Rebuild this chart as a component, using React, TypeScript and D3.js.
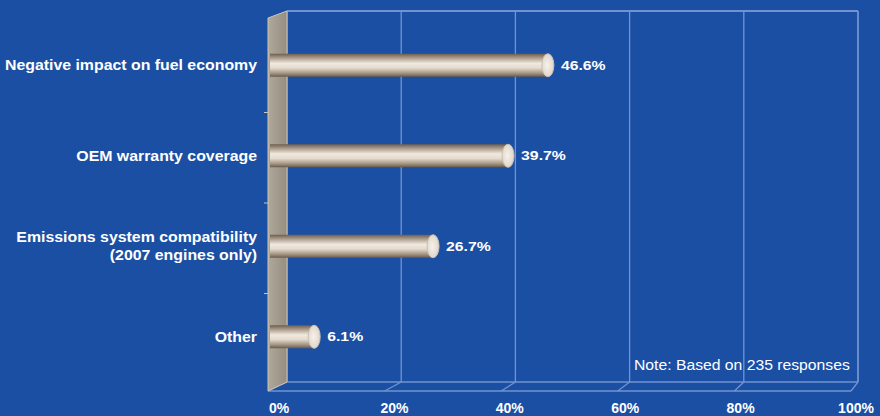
import React from "react";
import * as d3 from "d3";

const categories = [
  ["Negative impact on fuel economy"],
  ["OEM warranty coverage"],
  ["Emissions system compatibility", "(2007 engines only)"],
  ["Other"],
];
const values = [46.6, 39.7, 26.7, 6.1];
const valueLabels = ["46.6%", "39.7%", "26.7%", "6.1%"];
const ticks = [0, 20, 40, 60, 80, 100];
const tickLabels = ["0%", "20%", "40%", "60%", "80%", "100%"];
const note = "Note: Based on 235 responses";

const W = 880;
const H = 416;
const BG = "#1b4fa4";
const GRID = "#7393d0";

export default function App() {
  const mid = d3.scaleLinear().domain([0, 100]).range([279, 856]);
  const back = d3.scaleLinear().domain([0, 100]).range([287, 858]);
  const front = d3.scaleLinear().domain([0, 100]).range([268, 851]);
  const y = d3
    .scaleBand<number>()
    .domain(values.map((_, i) => i))
    .range([20, 382])
    .padding(0);
  const top = 11;
  const backBottom = 382;
  const frontBottom = 391;
  const bw = 23;

  return (
    <svg
      width={W}
      height={H}
      style={{ position: "absolute", left: 0, top: 0, background: BG }}
      fontFamily="'Liberation Sans', Arial, sans-serif"
    >
      <defs>
        <linearGradient id="cyl" x1="0" y1="0" x2="0" y2="1">
          <stop offset="0" stopColor="#6e5e4e" />
          <stop offset="0.18" stopColor="#ab9b8b" />
          <stop offset="0.42" stopColor="#f1e9df" />
          <stop offset="0.62" stopColor="#e4dace" />
          <stop offset="0.85" stopColor="#a39482" />
          <stop offset="1" stopColor="#6a5a4a" />
        </linearGradient>
        <linearGradient id="wall" x1="0" y1="0" x2="1" y2="0">
          <stop offset="0" stopColor="#b0a899" />
          <stop offset="1" stopColor="#958d80" />
        </linearGradient>
        <radialGradient id="cap" cx="0.45" cy="0.5" r="0.6">
          <stop offset="0" stopColor="#f6f1ea" />
          <stop offset="1" stopColor="#ddd3c7" />
        </radialGradient>
      </defs>
      <rect x={0} y={0} width={W} height={H} fill={BG} />

      {/* back wall gridlines */}
      {ticks.map((t) => (
        <line
          key={"g" + t}
          x1={back(t)}
          x2={back(t)}
          y1={top}
          y2={backBottom}
          stroke={GRID}
          strokeWidth={t === 100 ? 1.8 : 1.3}
        />
      ))}
      <line x1={back(0)} x2={back(100)} y1={top} y2={top} stroke={GRID} strokeWidth={1.8} />

      {/* floor */}
      <line x1={back(0)} x2={back(100)} y1={backBottom} y2={backBottom} stroke={GRID} strokeWidth={1.6} />
      <line x1={front(0)} x2={front(100)} y1={frontBottom} y2={frontBottom} stroke={GRID} strokeWidth={1.6} />
      {ticks.map((t) => (
        <line
          key={"f" + t}
          x1={back(t)}
          y1={backBottom}
          x2={front(t)}
          y2={frontBottom}
          stroke={GRID}
          strokeWidth={1.3}
        />
      ))}

      {/* side wall */}
      <polygon
        points={`${front(0)},${top + 7} ${back(0)},${top} ${back(0)},${backBottom} ${front(0)},${frontBottom}`}
        fill="url(#wall)"
        stroke="#c9c5bd"
        strokeWidth={1}
      />
      {values.slice(1).map((_, i) => (
        <line
          key={"t" + i}
          x1={front(0) - 4}
          x2={front(0)}
          y1={(y(i + 1) as number) + 2}
          y2={(y(i + 1) as number) + 2}
          stroke="#c9c5bd"
          strokeWidth={1}
        />
      ))}

      {/* bars */}
      {values.map((v, i) => {
        const cy = (y(i) as number) + y.bandwidth() / 2;
        const x0 = front(0) + 2;
        const x1 = mid(v);
        return (
          <g key={"b" + i}>
            <rect x={x0} y={cy - bw / 2} width={x1 - x0} height={bw} fill="url(#cyl)" />
            <ellipse cx={x1} cy={cy} rx={6} ry={bw / 2} fill="url(#cap)" stroke="#cbbfb1" strokeWidth={1} />
            <text
              transform={`translate(${x1 + 13},${cy}) scale(1.17,1)`}
              dy="0.35em"
              fill="#ffffff"
              fontWeight="bold"
              fontSize={13.5}
            >
              {valueLabels[i]}
            </text>
          </g>
        );
      })}

      {/* category labels */}
      {categories.map((lines, i) => {
        const cy = (y(i) as number) + y.bandwidth() / 2;
        const lh = 18;
        const start = cy - ((lines.length - 1) * lh) / 2;
        return (
          <text
            key={"c" + i}
            transform="translate(257,0) scale(1.095,1)"
            textAnchor="end"
            fill="#ffffff"
            fontWeight="bold"
            fontSize={14.5}
          >
            {lines.map((l, j) => (
              <tspan key={j} x={0} y={start + j * lh} dy="0.35em">
                {l}
              </tspan>
            ))}
          </text>
        );
      })}

      {/* axis labels */}
      {ticks.map((t, i) => (
        <text
          key={"a" + t}
          x={mid(t)}
          y={413}
          textAnchor="middle"
          fill="#ffffff"
          fontWeight="bold"
          fontSize={14}
        >
          {tickLabels[i]}
        </text>
      ))}

      <text transform="translate(634,370) scale(1.085,1)" fill="#ffffff" fontSize={14.5}>
        {note}
      </text>
    </svg>
  );
}
